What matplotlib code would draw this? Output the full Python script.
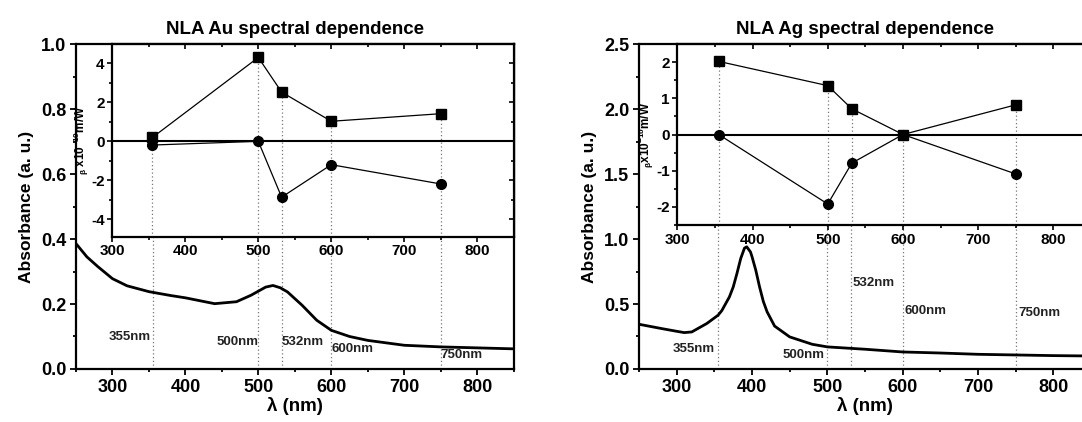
import numpy as np
import matplotlib
matplotlib.use("Agg")
import matplotlib.pyplot as plt
from matplotlib.ticker import MultipleLocator

plt.rcParams["font.family"] = ["Liberation Sans", "DejaVu Sans"]
plt.rcParams["font.weight"] = "bold"
plt.rcParams["axes.labelweight"] = "bold"
plt.rcParams["axes.titleweight"] = "bold"
plt.rcParams["axes.unicode_minus"] = False
plt.rcParams["mathtext.fontset"] = "custom"
plt.rcParams["mathtext.rm"] = "Liberation Sans:bold"
plt.rcParams["mathtext.it"] = "Liberation Sans:bold"
plt.rcParams["mathtext.bf"] = "Liberation Sans:bold"


# Absorbance spectra
wl_au = [250, 265, 280, 300, 320, 350, 380, 400, 440, 470, 490, 510, 520,
         530, 540, 560, 580, 600, 625, 650, 700, 750, 800, 850]
abs_au = [0.386, 0.345, 0.315, 0.278, 0.256, 0.238, 0.226, 0.219, 0.201,
          0.207, 0.227, 0.252, 0.257, 0.250, 0.237, 0.196, 0.150, 0.119,
          0.100, 0.088, 0.073, 0.068, 0.065, 0.062]

wl_ag = [250, 280, 300, 310, 320, 340, 355, 360, 370, 375, 380, 385, 390,
         393, 398, 400, 405, 410, 415, 420, 430, 450, 480, 500, 550, 600,
         650, 700, 750, 800, 850]
abs_ag = [0.344, 0.311, 0.290, 0.280, 0.285, 0.350, 0.414, 0.450, 0.555,
          0.630, 0.735, 0.850, 0.930, 0.940, 0.900, 0.864, 0.760, 0.632,
          0.520, 0.440, 0.330, 0.247, 0.190, 0.170, 0.152, 0.131, 0.123,
          0.113, 0.108, 0.103, 0.100]

# NLA coefficients (beta x 1e-10 m/W)
laser_nm = [355, 500, 532, 600, 750]
laser_labels = ["355nm", "500nm", "532nm", "600nm", "750nm"]
au_sq = [0.20, 4.31, 2.53, 1.03, 1.42]
au_ci = [-0.19, 0.00, -2.87, -1.20, -2.19]
ag_sq = [2.02, 1.35, 0.71, 0.00, 0.82]
ag_ci = [0.00, -1.92, -0.79, 0.00, -1.09]

# label anchors (x in nm, y in absorbance)
au_lab_pos = [(295, 0.097), (443, 0.083), (532, 0.083), (600, 0.060), (750, 0.044)]
ag_lab_pos = [(295, 0.157), (440, 0.105), (534, 0.66), (602, 0.45), (754, 0.43)]


def style_main(ax, ymax, ymaj, ymin):
    ax.set_xlim(250, 850)
    ax.set_ylim(0, ymax)
    ax.xaxis.set_major_locator(MultipleLocator(100))
    ax.xaxis.set_minor_locator(MultipleLocator(50))
    ax.yaxis.set_major_locator(MultipleLocator(ymaj))
    ax.yaxis.set_minor_locator(MultipleLocator(ymin))
    ax.tick_params(which="both", direction="out", width=1.3, labelsize=13,
                   top=False, right=False, pad=3)
    ax.tick_params(which="major", length=4)
    ax.tick_params(which="minor", length=2.5)
    for s in ax.spines.values():
        s.set_linewidth(1.6)
    ax.yaxis.set_major_formatter(plt.FormatStrFormatter("%.1f"))
    ax.set_xlabel("λ (nm)", fontsize=13.5, labelpad=1)
    ax.set_ylabel("Absorbance (a. u.)", fontsize=12.5, labelpad=5)


def style_inset(ax, ylim, ymaj, ymin):
    ax.set_xlim(300, 850)
    ax.set_ylim(*ylim)
    ax.xaxis.set_major_locator(MultipleLocator(100))
    ax.xaxis.set_minor_locator(MultipleLocator(50))
    ax.yaxis.set_major_locator(MultipleLocator(ymaj))
    ax.yaxis.set_minor_locator(MultipleLocator(ymin))
    ax.tick_params(which="both", direction="out", width=1.2, labelsize=11,
                   pad=2)
    ax.tick_params(which="major", length=3.5)
    ax.tick_params(which="minor", length=2)
    for s in ax.spines.values():
        s.set_linewidth(1.6)
    top = ax.secondary_xaxis("top")
    top.xaxis.set_major_locator(MultipleLocator(100))
    top.xaxis.set_minor_locator(MultipleLocator(50))
    top.tick_params(which="both", direction="in", labeltop=False, width=1.2)
    top.tick_params(which="major", length=3.5)
    top.tick_params(which="minor", length=2)
    right = ax.secondary_yaxis("right")
    right.yaxis.set_major_locator(MultipleLocator(ymaj))
    right.yaxis.set_minor_locator(MultipleLocator(ymin))
    right.tick_params(which="both", direction="in", labelright=False, width=1.2)
    right.tick_params(which="major", length=3.5)
    right.tick_params(which="minor", length=2)


fig = plt.figure(figsize=(10.82, 4.22), dpi=100)

panels = [
    dict(main=[0.0702, 0.1256, 0.4046, 0.7701],
         inset=[0.1038, 0.4391, 0.3710, 0.4566],
         wl=wl_au, ab=abs_au, sq=au_sq, ci=au_ci, ymax=1.0, ymaj=0.2, ymin=0.1,
         ilim=(-4.9, 5.0), imaj=2, imin=1, icut=0.407, labpos=au_lab_pos,
         title="NLA Au spectral dependence",
         ilabel=r"$_{β}$ x10$^{-10}$m/W"),
    dict(main=[0.5906, 0.1256, 0.4177, 0.7701],
         inset=[0.6260, 0.4668, 0.3823, 0.4289],
         wl=wl_ag, ab=abs_ag, sq=ag_sq, ci=ag_ci, ymax=2.5, ymaj=0.5, ymin=0.25,
         ilim=(-2.5, 2.5), imaj=1, imin=0.5, icut=1.105, labpos=ag_lab_pos,
         title="NLA Ag spectral dependence",
         ilabel=r"$_{β}$x10$^{-10}$m/W"),
]

for p in panels:
    ax = fig.add_axes(p["main"])
    style_main(ax, p["ymax"], p["ymaj"], p["ymin"])
    ax.vlines(laser_nm, 0, p["icut"], colors="#777777", linestyles=(0, (1, 2)),
              linewidth=0.9)
    ax.plot(p["wl"], p["ab"], color="black", linewidth=2.0)
    for lab, (lx, ly) in zip(laser_labels, p["labpos"]):
        ax.text(lx, ly, lab, fontsize=9.5, color="#222222", ha="left",
                va="center")
    ax.set_title(p["title"], fontsize=13.5, pad=7)

    axi = fig.add_axes(p["inset"])
    axi.set_facecolor("white")
    style_inset(axi, p["ilim"], p["imaj"], p["imin"])
    tops = np.maximum(p["sq"], p["ci"])
    axi.vlines(laser_nm, p["ilim"][0], tops, colors="#777777",
               linestyles=(0, (1, 2)), linewidth=0.9)
    axi.axhline(0, color="black", linewidth=1.5)
    axi.plot(laser_nm, p["sq"], color="black", linewidth=0.9, marker="s",
             markersize=6.5)
    axi.plot(laser_nm, p["ci"], color="black", linewidth=0.9, marker="o",
             markersize=7)
    axi.set_ylabel(p["ilabel"], fontsize=8.5, labelpad=0)

fig.savefig("out.png", dpi=100, facecolor="white")
